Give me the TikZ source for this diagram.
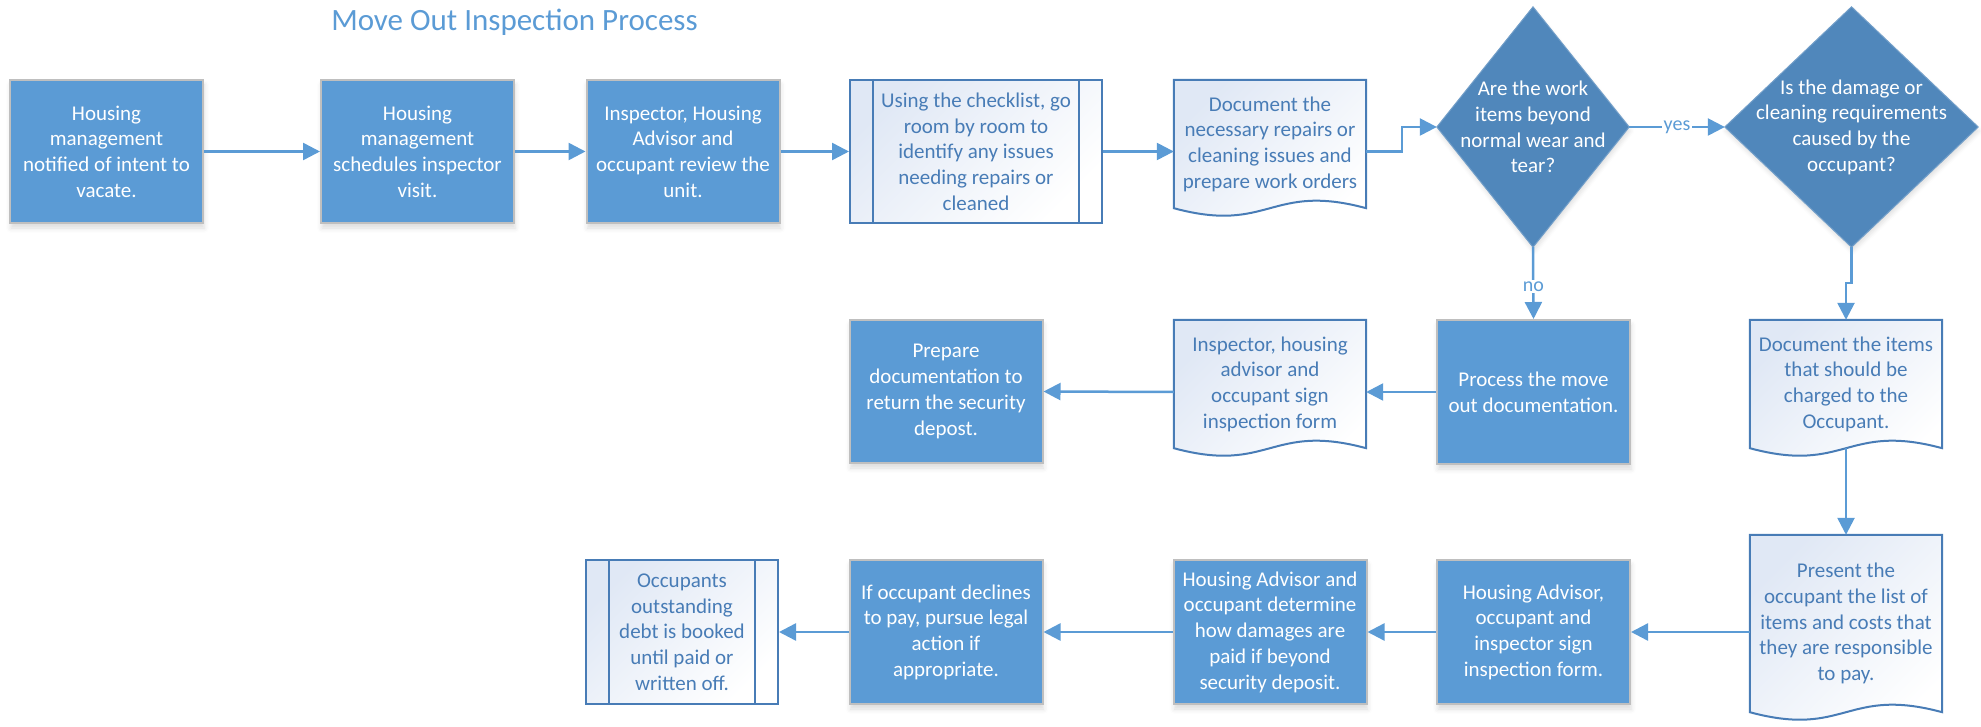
\documentclass[tikz,border=0pt]{standalone}
\usepackage{fontspec}
\setmainfont{Carlito}
\usetikzlibrary{arrows.meta,calc,shadows.blur}
\definecolor{boxfill}{HTML}{5B9BD5}
\definecolor{boxedge}{HTML}{BFBFBF}
\definecolor{dmfill}{RGB}{80,135,187}
\definecolor{wedge}{RGB}{72,124,182}
\definecolor{wtext}{RGB}{72,124,182}
\definecolor{gbl}{RGB}{224,232,245}
\definecolor{conn}{HTML}{5B9BD5}
\pgfdeclarelayer{bg}
\pgfsetlayers{bg,main}
\newcommand\docpath[1]{%
  \path[docshape] (#1.north west) -- (#1.north east) -- (#1.south east)
    .. controls ($(#1.south)+(0,-26)$) and ($(#1.south)+(0,26)$) .. (#1.south west) -- cycle;}
\newcommand\dmpath[1]{%
  \path[dmshape] (#1.north) -- (#1.east) -- (#1.south) -- (#1.west) -- cycle;}
\newcommand\predeflines[1]{%
  \draw[wedge, line width=2pt] ([xshift=24pt]#1.north west) -- ([xshift=24pt]#1.south west);
  \draw[wedge, line width=2pt] ([xshift=-24pt]#1.north east) -- ([xshift=-24pt]#1.south east);}
\begin{document}
\begin{tikzpicture}[x=1pt,y=-1pt,
  every node/.style={font=\fontsize{21}{25.7}\selectfont, align=center, inner sep=0pt},
  procbox/.style={rectangle, draw=boxedge, line width=2pt, fill=boxfill, text=white,
    minimum width=193pt, minimum height=143pt,
    blur shadow={shadow xshift=1pt, shadow yshift=-5pt, shadow blur radius=5pt, shadow opacity=14}},
  dochold/.style={rectangle, draw=none, text=wtext, minimum width=192pt, minimum height=#1},
  dmhold/.style={rectangle, draw=none, text=white},
  predef/.style={rectangle, draw=wedge, line width=2pt, text=wtext, top color=gbl, bottom color=white, shading angle=45},
  docshape/.style={draw=wedge, line width=2pt, top color=gbl, bottom color=white, shading angle=45},
  dmshape/.style={fill=dmfill, draw=dmfill!80!white, line width=1pt,
    blur shadow={shadow xshift=1pt, shadow yshift=-4pt, shadow blur radius=4pt, shadow opacity=12}},
  conn/.style={draw=conn, line width=2.5pt, -{Triangle[length=17pt,width=17pt]}},
  lbl/.style={fill=white, text=conn, font=\fontsize{20}{24}\selectfont, inner sep=1.5pt}
]
\useasboundingbox (0,0) rectangle (1981,727);

% title
\node[text=conn, font=\fontsize{31}{36}\selectfont] (title) at (514.5,22) {Move Out Inspection Process};

% row 1
\node[procbox] (b1) at (106.5,151.5) {Housing\\management\\notified of intent to\\vacate.};
\node[procbox] (b2) at (417.5,151.5) {Housing\\management\\schedules inspector\\visit.};
\node[procbox] (b3) at (683,151.5) {Inspector, Housing\\Advisor and\\occupant review the\\unit.};
\node[predef, minimum width=252pt, minimum height=143pt] (chk) at (976,151.5) {Using the checklist, go\\room by room to\\identify any issues\\needing repairs or\\cleaned};
\predeflines{chk}
\node[dochold=128pt] (doc1) at (1270,144) {Document the\\necessary repairs or\\cleaning issues and\\prepare work orders};
\node[dmhold, minimum width=192pt, minimum height=240pt] (d1) at (1533,127) {Are the work\\items beyond\\normal wear and\\tear?};
\node[dmhold, minimum width=253pt, minimum height=240pt] (d2) at (1851.5,127) {Is the damage or\\cleaning requirements\\caused by the\\occupant?};

% row 2
\node[procbox] (prep) at (946,391.5) {Prepare\\documentation to\\return the security\\depost.};
\node[dochold=128pt] (insp) at (1270,384) {Inspector, housing\\advisor and\\occupant sign\\inspection form};
\node[procbox, minimum height=144pt] (proc) at (1533.5,392) {Process the move\\out documentation.};
\node[dochold=128pt] (doc2) at (1846,384) {Document the items\\that should be\\charged to the\\Occupant.};

% row 3
\node[predef, minimum width=192pt, minimum height=144pt] (occ) at (682,632) {Occupants\\outstanding\\debt is booked\\until paid or\\written off.};
\predeflines{occ}
\node[procbox, minimum height=144pt] (ifocc) at (946,632) {If occupant declines\\to pay, pursue legal\\action if\\appropriate.};
\node[procbox, minimum height=144pt] (hadet) at (1270,632) {Housing Advisor and\\occupant determine\\how damages are\\paid if beyond\\security deposit.};
\node[procbox, minimum height=144pt] (hasign) at (1533.5,632) {Housing Advisor,\\occupant and\\inspector sign\\inspection form.};
\node[dochold=177pt] (doc3) at (1846,623.5) {Present the\\occupant the list of\\items and costs that\\they are responsible\\to pay.};

\begin{pgfonlayer}{bg}
\docpath{doc1}
\docpath{insp}
\docpath{doc2}
\docpath{doc3}
\dmpath{d1}
\dmpath{d2}
\end{pgfonlayer}

% connectors
\draw[conn] (b1.east) -- (b2.west);
\draw[conn] (b2.east) -- (b3.west);
\draw[conn] (b3.east) -- (chk.west);
\draw[conn] (chk.east) -- (chk.east -| doc1.west);
\draw[conn] (doc1.east |- chk.east) -- ++(36,0) |- (d1.west);
\draw[conn] (d1.east) -- node[lbl] {yes} (d2.west);
\draw[conn] (d1.south) -- node[lbl, pos=0.55] {no} (proc.north);
\draw[conn] (d2.south) -- ++(0,36) -| (doc2.north);
\draw[conn] (proc.west) -- (proc.west -| insp.east);
\draw[conn] (insp.west |- proc.west) -- (prep.east);
\draw[conn] (doc2.south) -- (doc3.north);
\draw[conn] (doc3.west |- hasign.east) -- (hasign.east);
\draw[conn] (hasign.west) -- (hadet.east);
\draw[conn] (hadet.west) -- (ifocc.east);
\draw[conn] (ifocc.west) -- (occ.east);
\end{tikzpicture}
\end{document}
